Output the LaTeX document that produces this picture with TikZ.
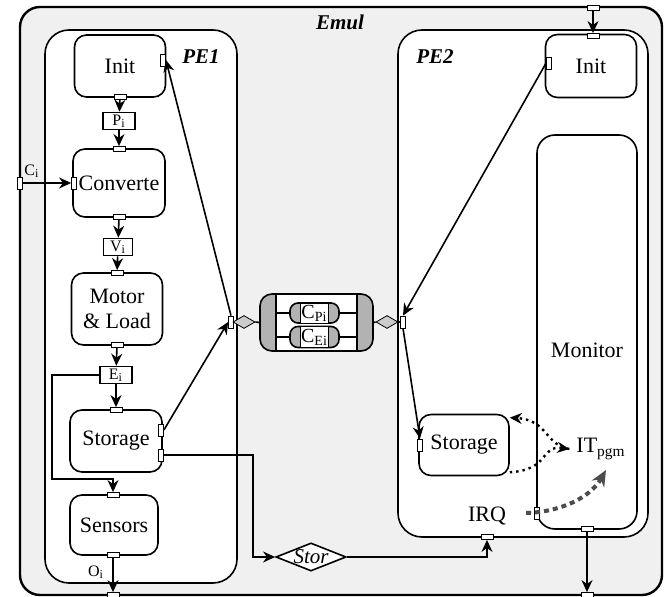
\documentclass[tikz,border=0pt]{standalone}
\usepackage{fontspec}
\setmainfont{Liberation Serif}
\usetikzlibrary{arrows.meta,shapes.geometric}

\tikzset{
  block/.style={draw, thick, rounded corners=6pt, fill=white, align=center,
    inner sep=1pt, font=\fontsize{11}{12.5}\selectfont},
  datum/.style={draw, thick, fill=white, inner sep=1pt, minimum height=8.5pt,
    font=\fontsize{8}{9}\selectfont},
  hport/.style={draw, fill=white, minimum width=6pt, minimum height=2.5pt, inner sep=0pt},
  vport/.style={draw, fill=white, minimum width=2.5pt, minimum height=6pt, inner sep=0pt},
  flow/.style={thick, -{Stealth[length=6pt,width=5.5pt]}},
  title/.style={font=\fontsize{10.5}{12}\selectfont\bfseries\itshape},
  capsule/.style={draw, thick, fill=gray!60, rounded corners=6pt, inner sep=0pt},
  link/.style={draw, diamond, fill=gray!40, minimum width=11pt, minimum height=6.5pt,
    inner sep=0pt},
}

\begin{document}
\begin{tikzpicture}[x=0.5pt,y=-0.5pt]
\useasboundingbox (0,0) rectangle (669,597);

% Draw the containers
\draw[very thick, rounded corners=10pt, fill=gray!12] (20,7) rectangle (662,595);
\draw[thick, rounded corners=12pt, fill=white] (45,30) rectangle (237,583);
\draw[thick, rounded corners=12pt, fill=white] (398,30) rectangle (648,537);
\draw[thick, rounded corners=9pt] (537,135) rectangle (637,529);

% Labels of the containers
\node[title] (emul) at (340,22) {Emul};
\node[title] (pe1) at (201,57) {PE1};
\node[title] (pe2) at (435,57) {PE2};
\node[font=\fontsize{11}{12.5}\selectfont] (mon) at (587,350) {Monitor};

% Blocks of PE1
\node[block, minimum width=45.5pt, minimum height=31pt] (init1) at (120,66) {Init};
\node[block, minimum width=46pt, minimum height=34pt] (conv) at (119,183) {Converte};
\node[block, minimum width=45.5pt, minimum height=36pt] (motor) at (117,309) {Motor\\\& Load};
\node[block, minimum width=46pt, minimum height=31pt] (stor1) at (116,441) {Storage};
\node[block, minimum width=44pt, minimum height=30pt] (sens) at (114,525) {Sensors};

% Data between the blocks
\node[datum, minimum width=16pt] (pi) at (119,121) {P\textsubscript{i}};
\node[datum, minimum width=14.5pt] (vi) at (118,247) {V\textsubscript{i}};
\node[datum, minimum width=16pt] (ei) at (116,375) {E\textsubscript{i}};

% Blocks of PE2
\node[block, minimum width=45.5pt, minimum height=31.5pt] (init2) at (591,66) {Init};
\node[block, minimum width=45pt, minimum height=30.5pt] (stor2) at (464,445) {Storage};

% Ports
\foreach \n/\x/\y in {pinit1s/120/97, pconvn/119/149, pconvs/119/217, pmotn/117/273,
    pmots/117/345, pstor1n/116/410, psensn/113/495, psenss/113/555, poi/113/595,
    pinit2n/593/36, pemn/593/8, pirq/487/537, pmons/587/529, pems/587/595}
  \node[hport] (\n) at (\x,\y) {};
\foreach \n/\x/\y in {pci/20/183, pconvw/74/183, pinit1e/163/60, pstor1a/161/430,
    pstor1b/161/455, ppe1e/231/322, ppe2w/403/322, pinit2w/549/63, pstor2w/420/445,
    pmonw/537/513}
  \node[vport] (\n) at (\x,\y) {};

% Flow through PE1
\draw[flow] (pinit1s) -- (pi);
\draw[flow] (pi) -- (pconvn);
\draw[flow] (pconvs) -- (vi);
\draw[flow] (vi) -- (pmotn);
\draw[flow] (pmots) -- (ei);
\draw[flow] (ei) -- (pstor1n);
\draw[flow] (pci.east) -- (pconvw.west);
\node[font=\fontsize{8}{9}\selectfont] (ci) at (32,171) {C\textsubscript{i}};
\coordinate (loop) at (52,479);
\draw[flow] (ei.west) -| (loop) -| (psensn.north);
\draw[flow] (psenss) -- (poi);
\node[font=\fontsize{8}{9}\selectfont] (oi) at (96,572) {O\textsubscript{i}};
\draw[flow] (pstor1a.east) -- (ppe1e.west);
\draw[flow] (ppe1e.north) -- (pinit1e.east);

% The channel between PE1 and PE2
\node[capsule, minimum width=56.5pt, minimum height=28.5pt] (chan) at (316.5,322.5) {};
\node[draw, thick, fill=white, minimum width=40.5pt, minimum height=28.5pt, inner sep=0pt]
  (chanin) at (chan) {};
\node[capsule, rounded corners=4pt, minimum width=24.5pt, minimum height=10pt] (cpo) at (314.5,313) {};
\node[draw, fill=white, minimum width=14pt, minimum height=10pt, inner sep=0pt,
  font=\fontsize{10}{10}\selectfont] (cp) at (cpo) {C\textsubscript{Pi}};
\node[capsule, rounded corners=4pt, minimum width=24.5pt, minimum height=10.5pt] (ceo) at (314.5,337) {};
\node[draw, fill=white, minimum width=14pt, minimum height=10.5pt, inner sep=0pt,
  font=\fontsize{10}{10}\selectfont] (ce) at (ceo) {C\textsubscript{Ei}};
\foreach \c in {cpo,ceo} {
  \draw[thick] (chanin.west |- \c) -- (\c.west);
  \draw[thick] (\c.east) -- (chanin.east |- \c);
}
\node[link] (dl) at (244,322) {};
\node[link] (dr) at (387,322) {};
\draw[thick] (ppe1e.east) -- (dl.west);
\draw[thick] (dl.east) -- (chan.west);
\draw[thick] (chan.east) -- (dr.west);
\draw[thick] (dr.east) -- (ppe2w.west);

% Storage of PE1 to the IRQ of PE2
\node[draw, thick, diamond, aspect=2.5, fill=white, minimum width=35pt, minimum height=14pt,
  inner sep=0pt, font=\fontsize{10.5}{12}\selectfont\itshape] (stor) at (311,557) {Stor};
\coordinate (bend) at (253,557);
\draw[flow] (pstor1b.east) -| (bend) -- (stor.west);
\draw[flow] (stor.east) -| (pirq.south);
\node[font=\fontsize{11}{12.5}\selectfont] (irq) at (487,516) {IRQ};

% Flow through PE2
\draw[flow] (pemn) -- (pinit2n);
\draw[flow] (pinit2w.west) -- (ppe2w.north);
\draw[flow] (ppe2w.south) -- (pstor2w.north);
\draw[flow] (pmons) -- (pems);
\node[font=\fontsize{11}{12.5}\selectfont] (it) at (601,449) {IT\textsubscript{pgm}};
\draw[flow, very thick, dotted] (it.west) .. controls (545,445) and (548,420) .. ([yshift=-2pt]stor2.north east);
\draw[flow, very thick, dotted] ([yshift=2pt]stor2.south east) .. controls (550,470) and (540,445) .. (it.west);
\coordinate (itend) at (606,470);
\draw[line width=2pt, dash pattern=on 2.5pt off 2pt, gray!60!black,
  -{Stealth[length=8pt,width=7pt]}] ([xshift=-4pt]pmonw.west) .. controls (560,512) and (590,498) .. (itend);

\end{tikzpicture}
\end{document}
